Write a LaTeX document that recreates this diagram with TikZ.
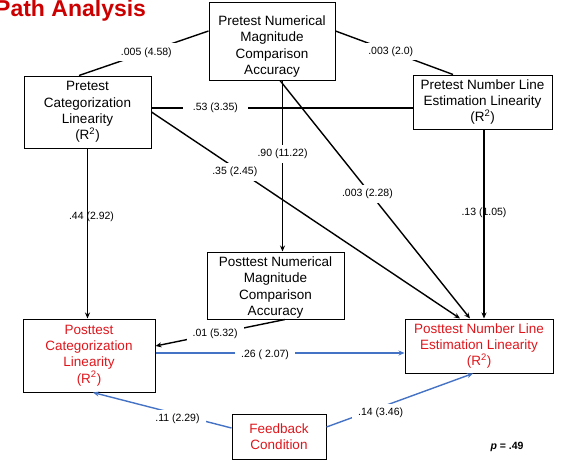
\documentclass[tikz,border=0pt]{standalone}
\usepackage{fontspec}
\setmainfont{Liberation Sans}
\usetikzlibrary{arrows.meta,calc}
\definecolor{txtred}{RGB}{222,22,28}
\definecolor{ttlred}{RGB}{204,0,0}
\definecolor{pathblue}{RGB}{68,114,196}
\begin{document}
\begin{tikzpicture}[x=1pt,y=-1pt,
  box/.style={draw, line width=1pt, align=center, inner sep=0pt, font=\fontsize{13.5}{16.3}\selectfont},
  redbox/.style={box, text=txtred},
  lab/.style={font=\fontsize{10.5}{12}\selectfont, inner sep=1pt},
  gap/.style={lab, fill=white, inner xsep=6pt, inner ysep=4pt},
  conn/.style={line width=1.4pt},
  arr/.style={conn, -{Stealth[length=6pt,width=5pt]}},
  barr/.style={arr, draw=pathblue},
]
\useasboundingbox (0,0) rectangle (561,460);

\node[anchor=base west, inner sep=0pt, text=ttlred, font=\bfseries\fontsize{23}{26}\selectfont] (title) at (-5,17) {Path Analysis};

\node[box, minimum width=126pt, minimum height=77pt] (pnm) at (272,41.5) {\rule{0pt}{20pt}Pretest Numerical\\Magnitude\\Comparison\\Accuracy};
\node[box, minimum width=127pt, minimum height=72pt] (pcl) at (87.5,112) {Pretest\\Categorization\\Linearity\\(R\textsuperscript{2})};
\node[box, minimum width=139pt, minimum height=54pt] (pnl) at (482.5,102) {Pretest Number Line\\Estimation Linearity\\(R\textsuperscript{2})};
\node[box, minimum width=137pt, minimum height=67pt] (qnm) at (275.5,285.5) {\rule{0pt}{14pt}Posttest Numerical\\Magnitude\\Comparison\\Accuracy};
\node[redbox, minimum width=132pt, minimum height=73pt] (qcl) at (89,355.5) {Posttest\\Categorization\\Linearity\\(R\textsuperscript{2})};
\node[redbox, minimum width=148pt, minimum height=54pt] (qnl) at (479,346) {Posttest Number Line\\Estimation Linearity\\(R\textsuperscript{2})};
\node[redbox, minimum width=94pt, minimum height=45pt] (fc) at (279,436.5) {Feedback\\Condition};

\draw[conn] ($(pnm.west)+(0,-10.5)$) -- node[gap,pos=0.48]{.005 (4.58)} ($(pcl.north)+(-8.5,0)$);
\draw[conn] ($(pnm.east)+(0,-10.5)$) -- node[gap,pos=0.47]{.003 (2.0)} ($(pnl.north)+(-29.5,0)$);
\draw[conn] ($(pcl.east)+(0,-4)$) -- node[gap,pos=0.245,inner xsep=10pt]{.53 (3.35)} ($(pnl.west)+(0,6)$);

\draw[arr] ($(pnm.south)+(10.5,0)$) -- node[gap,pos=0.43]{.90 (11.22)} ($(qnm.north)+(7,0)$);
\draw[arr] ($(pnm.south)+(8,0)$) -- node[gap,pos=0.46,yshift=-4pt]{.003 (2.28)} ($(qnl.north)+(-9,0)$);
\draw[arr] (pcl.east) -- node[gap,pos=0.27,yshift=-4pt]{.35 (2.45)} ($(qnl.north)+(-19,0)$);
\draw[arr] (pcl.south) -- node[lab,pos=0.4,xshift=4pt]{.44 (2.92)} (pcl.south |- qcl.north);
\draw[arr] ($(pnl.south)+(1.5,0)$) -- node[lab,pos=0.44]{.13 (1.05)} ($(qnl.north)+(5,0)$);
\draw[arr] ($(qnm.south)+(9.5,0)$) -- node[gap,pos=0.54]{.01 (5.32)} ($(qcl.east)+(0,-9.5)$);

\draw[barr] ($(qcl.east)+(0,-2.5)$) -- node[gap,pos=0.44,text=black,yshift=-2pt]{.26 ( 2.07)} ($(qnl.west)+(0,7)$);
\draw[barr] ($(fc.west)+(0,-8.5)$) -- node[gap,pos=0.39,text=black,yshift=-5pt]{.11 (2.29)} ($(qcl.south)+(4,0)$);
\draw[barr] ($(fc.east)+(0,-9.5)$) -- node[gap,pos=0.37,text=black,yshift=-6pt]{.14 (3.46)} ($(qnl.south)+(-6,0)$);

\node[lab, font=\bfseries\fontsize{10.5}{12}\selectfont] (pval) at (507,447) {\textit{p} = .49};
\end{tikzpicture}
\end{document}
